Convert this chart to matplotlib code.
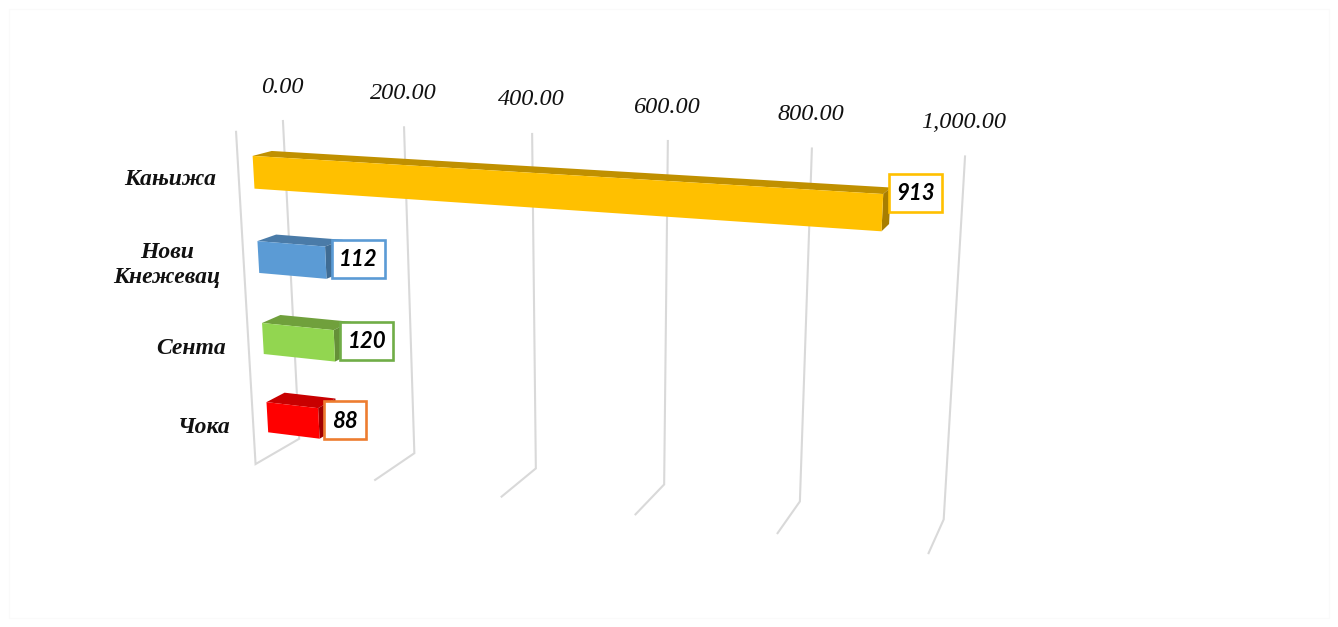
import numpy as np
import matplotlib
matplotlib.use('Agg')
import matplotlib.pyplot as plt
from matplotlib.patches import Polygon, Rectangle

# data
categories = ['Кањижа', 'Нови\nКнежевац', 'Сента', 'Чока']
values = [913, 112, 120, 88]
ticks = [0, 200, 400, 600, 800, 1000]
tick_labels = ['0.00', '200.00', '400.00', '600.00', '800.00', '1,000.00']

front_colors = ['#FFC000', '#5B9BD5', '#92D650', '#FF0000']
top_colors = ['#C09000', '#4A7BA8', '#70A03C', '#C80000']
side_colors = ['#A87E00', '#3F6C94', '#659038', '#A00000']
box_colors = ['#FFC000', '#5B9BD5', '#70AD47', '#ED7D31']

# where the 3d box of the chart ends up on the image: (value, height, depth) -> pixel
box_value = [0, 0, 0, 0, 200, 200, 200, 400, 400, 400, 600, 600, 600, 800, 800, 800, 1000, 1000, 1000]
box_height = [0, 1, 0, 1, 1, 0, 0, 1, 0, 0, 1, 0, 0, 1, 0, 0, 1, 0, 0]
box_depth = [0, 0, 1, 1, 1, 1, 0, 1, 1, 0, 1, 1, 0, 1, 1, 0, 1, 1, 0]
box_x = [255, 237, 300, 282, 404, 414, 375, 532, 536, 502, 668, 664, 635, 812, 800, 778, 965, 944, 928]
box_y = [464, 131, 438, 122, 127, 453, 481, 134, 468, 497, 141, 485, 514, 149, 502, 533, 156, 519, 553]


def fit_camera():
    rows = []
    for v, h, d, x, y in zip(box_value, box_height, box_depth, box_x, box_y):
        p = [v / 1000, h, d, 1]
        rows.append(p + [0, 0, 0, 0] + [-x * c for c in p])
        rows.append([0, 0, 0, 0] + p + [-y * c for c in p])
    _, _, vt = np.linalg.svd(np.array(rows, dtype=float))
    return vt[-1].reshape(3, 4)


camera = fit_camera()


def project(v, h, d):
    px = camera @ np.array([v / 1000, h, d, 1])
    return px[0] / px[2], px[1] / px[2]


fig = plt.figure(figsize=(13.38, 6.27), dpi=100)
ax = fig.add_axes([0, 0, 1, 1])
ax.set_xlim(0, 1338)
ax.set_ylim(627, 0)
ax.axis('off')

# faint outer border
ax.add_patch(Rectangle((9, 9), 1320, 609, fc='none', ec='#FAFAFA', lw=1))

# walls
grid_color = '#D9D9D9'
for t, lab in zip(ticks, tick_labels):
    pts = [project(t, 1, 1), project(t, 0, 1), project(t, 0, 0)]
    if t == 0:
        pts.append(project(t, 1, 0))
    ax.plot([p[0] for p in pts], [p[1] for p in pts], color=grid_color, lw=1.5, zorder=1,
            solid_joinstyle='miter')
    tx, ty = project(t, 1, 1)
    ax.text(tx - 1, ty - 34, lab, family='Liberation Serif', style='italic', fontsize=17.5,
            color='#111111', ha='center', va='center')

# bars
bar_h = 0.096
d1, d2 = 0.31, 0.72
centers = [0.872, 0.62, 0.371, 0.124]
label_dx = [33.5, 32.5, 32.5, 26.5]
label_dy = [-20, -4, -5, -3]
for i, (cat, val) in enumerate(zip(categories, values)):
    lo = centers[i] - bar_h / 2
    hi = centers[i] + bar_h / 2
    top = [project(0, hi, d1), project(0, hi, d2), project(val, hi, d2), project(val, hi, d1)]
    side = [project(val, hi, d1), project(val, hi, d2), project(val, lo, d2), project(val, lo, d1)]
    front = [project(0, lo, d1), project(0, hi, d1), project(val, hi, d1), project(val, lo, d1)]
    ax.add_patch(Polygon(top, fc=top_colors[i], ec='none', zorder=3))
    ax.add_patch(Polygon(side, fc=side_colors[i], ec='none', zorder=3))
    ax.add_patch(Polygon(front, fc=front_colors[i], ec='none', zorder=4))

    # value label
    ex, ey = project(val, centers[i], d1)
    cx, cy = ex + label_dx[i], ey + label_dy[i]
    w = 20 + 11 * len(str(val))
    ax.add_patch(Rectangle((cx - w / 2, cy - 19), w, 38, fc='white', ec=box_colors[i], lw=1.9, zorder=5))
    ax.text(cx, cy + 1, str(val), family='Lato', weight='bold', style='italic', fontsize=16,
            color='black', ha='center', va='center', zorder=6)

    # category label
    lx, ly = project(0, centers[i], 0)
    ax.text(lx - 23, ly + 3, cat, family='Liberation Serif', weight='bold', style='italic', fontsize=17,
            color='#111111', ha='right', va='center', multialignment='center', linespacing=1.25)

fig.savefig('out.png', dpi=100, facecolor='white')
